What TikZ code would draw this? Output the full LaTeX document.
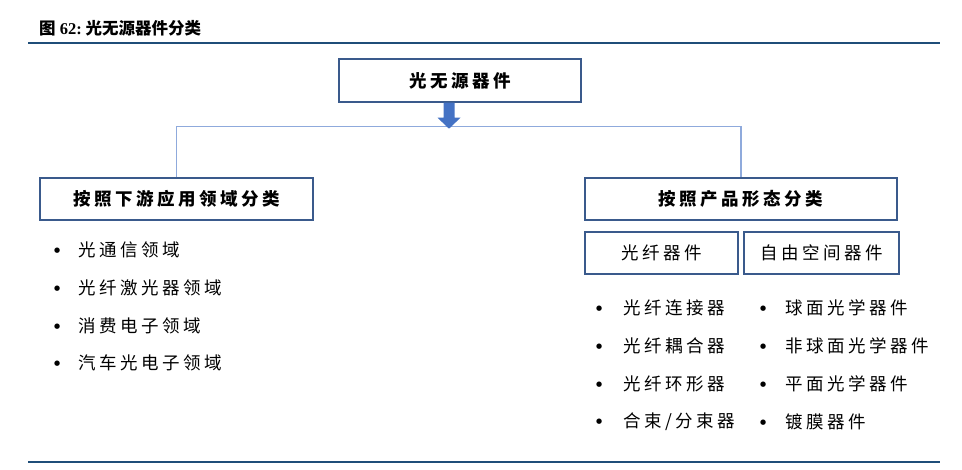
\documentclass[tikz,border=0pt]{standalone}
\usepackage{fontspec}
\setmainfont{Liberation Serif}
\newfontfamily\cjk[LetterSpace=20]{Noto Sans CJK SC}
\newfontfamily\cjktitle{Noto Sans CJK SC}
\newfontfamily\sym{DejaVu Sans}
\usetikzlibrary{calc}
\definecolor{rule}{HTML}{1F4E79}
\definecolor{boxline}{HTML}{3A5A8C}
\definecolor{conn}{HTML}{8FAADC}
\definecolor{arrowblue}{HTML}{4472C4}
\tikzset{
  box/.style={draw=boxline, line width=1.4pt, fill=white, inner sep=0pt, font=\cjk\fontsize{17.5}{20}\selectfont},
  boldbox/.style={box, font=\cjk\bfseries\fontsize{17.5}{20}\selectfont},
  item/.style={anchor=west, inner sep=0pt, font=\cjk\fontsize{17.5}{20}\selectfont},
  connline/.style={draw=conn, line width=1.2pt},
  rulestyle/.style={draw=rule, line width=2.6pt}
}
\newcommand{\bl}[1]{\makebox[#1][l]{\raisebox{4.5pt}{\sym\fontsize{7}{7}\selectfont ●}}}
\begin{document}
\begin{tikzpicture}[x=1pt,y=-1pt]
\useasboundingbox (0,0) rectangle (962,469);
% title
\node[anchor=west, inner sep=0pt, font=\bfseries\fontsize{16.5}{18}\selectfont] (title) at (39,28) {{\cjktitle 图} 62:{\cjktitle\ 光无源器件分类}};
\coordinate (rl) at (28,43);
\coordinate (rr) at (940,43);
\draw[rulestyle] (rl) -- (rr);
\coordinate (bl) at (28,462);
\coordinate (br) at (940,462);
\draw[rulestyle] (bl) -- (br);
% top box
\node[boldbox, minimum width=242pt, minimum height=43pt] (top) at (460,80.5) {光无源器件};
% left / right category boxes
\node[boldbox, minimum width=273pt, minimum height=42pt] (left) at (176.5,199) {按照下游应用领域分类};
\node[boldbox, minimum width=312pt, minimum height=42pt] (right) at (741,199) {按照产品形态分类};
% connector
\draw[connline] (left.north) -- ++(0,-51) coordinate (hj) -| (right.north);
% block arrow
\coordinate (as) at ($(top.south)+(-11,0)$);
\fill[arrowblue] ($(as)+(-5.5,0)$) -- ($(as)+(5.5,0)$) -- ($(as)+(5.5,15)$) -- ($(as)+(11.5,15)$)
  -- ($(as)+(0,26)$) -- ($(as)+(-11.5,15)$) -- ($(as)+(-5.5,15)$) -- cycle;
% sub boxes
\node[box, minimum width=153pt, minimum height=42pt] (fiber) at (661.5,253) {光纤器件};
\node[box, minimum width=155pt, minimum height=42pt] (free) at (821.5,253) {自由空间器件};
% left list
\node[item] (l1) at (54,250) {\bl{24pt}光通信领域};
\node[item] (l2) at (54,288) {\bl{24pt}光纤激光器领域};
\node[item] (l3) at (54,326) {\bl{24pt}消费电子领域};
\node[item] (l4) at (54,363) {\bl{24pt}汽车光电子领域};
% right lists
\node[item] (a1) at (596,308) {\bl{27pt}光纤连接器};
\node[item] (a2) at (596,346) {\bl{27pt}光纤耦合器};
\node[item] (a3) at (596,384) {\bl{27pt}光纤环形器};
\node[item] (a4) at (596,422) {\bl{27pt}合束/分束器};
\node[item] (b1) at (760,308) {\bl{25pt}球面光学器件};
\node[item] (b2) at (760,346) {\bl{25pt}非球面光学器件};
\node[item] (b3) at (760,384) {\bl{25pt}平面光学器件};
\node[item] (b4) at (760,422) {\bl{25pt}镀膜器件};
\end{tikzpicture}
\end{document}
